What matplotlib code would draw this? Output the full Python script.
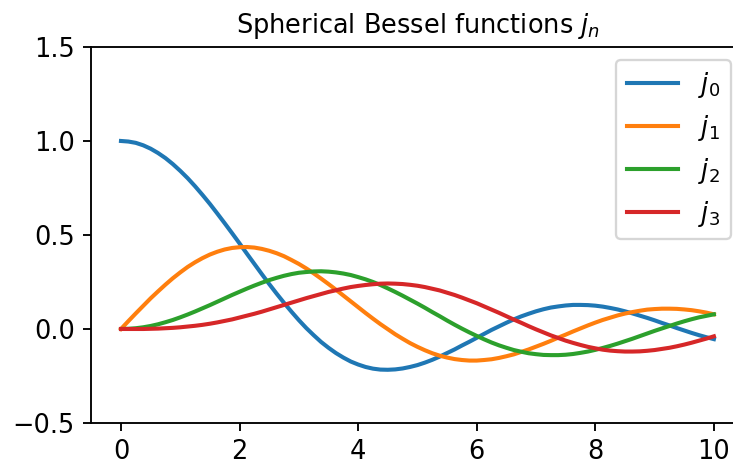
import matplotlib
matplotlib.use("Agg")
import matplotlib.pyplot as plt

# sample positions (every 0.125) and values for each order
x_values = [0.0, 0.125, 0.25, 0.375, 0.5, 0.625, 0.75, 0.875,
            1.0, 1.125, 1.25, 1.375, 1.5, 1.625, 1.75, 1.875,
            2.0, 2.125, 2.25, 2.375, 2.5, 2.625, 2.75, 2.875,
            3.0, 3.125, 3.25, 3.375, 3.5, 3.625, 3.75, 3.875,
            4.0, 4.125, 4.25, 4.375, 4.5, 4.625, 4.75, 4.875,
            5.0, 5.125, 5.25, 5.375, 5.5, 5.625, 5.75, 5.875,
            6.0, 6.125, 6.25, 6.375, 6.5, 6.625, 6.75, 6.875,
            7.0, 7.125, 7.25, 7.375, 7.5, 7.625, 7.75, 7.875,
            8.0, 8.125, 8.25, 8.375, 8.5, 8.625, 8.75, 8.875,
            9.0, 9.125, 9.25, 9.375, 9.5, 9.625, 9.75, 9.875, 10.0]
j0 = [1.000, 0.997, 0.990, 0.977, 0.959, 0.936, 0.909, 0.877,
      0.841, 0.802, 0.759, 0.713, 0.665, 0.614, 0.562, 0.509,
      0.455, 0.400, 0.346, 0.292, 0.239, 0.188, 0.139, 0.092,
      0.047, 0.005, -0.033, -0.069, -0.100, -0.128, -0.152, -0.173,
      -0.189, -0.202, -0.211, -0.216, -0.217, -0.215, -0.210, -0.202,
      -0.192, -0.179, -0.164, -0.147, -0.128, -0.109, -0.088, -0.068,
      -0.047, -0.026, -0.005, 0.014, 0.033, 0.051, 0.067, 0.081,
      0.094, 0.105, 0.114, 0.120, 0.125, 0.128, 0.128, 0.127,
      0.124, 0.119, 0.112, 0.104, 0.094, 0.083, 0.071, 0.059,
      0.046, 0.032, 0.019, 0.005, -0.008, -0.021, -0.033, -0.044, -0.054]
j1 = [0.000, 0.042, 0.083, 0.123, 0.163, 0.200, 0.236, 0.270,
      0.301, 0.330, 0.355, 0.377, 0.396, 0.411, 0.423, 0.431,
      0.435, 0.436, 0.433, 0.426, 0.416, 0.403, 0.387, 0.367,
      0.346, 0.322, 0.296, 0.268, 0.239, 0.209, 0.178, 0.147,
      0.116, 0.085, 0.055, 0.026, -0.001, -0.028, -0.052, -0.075,
      -0.095, -0.113, -0.129, -0.142, -0.152, -0.160, -0.165, -0.168,
      -0.168, -0.165, -0.161, -0.154, -0.145, -0.135, -0.122, -0.109,
      -0.094, -0.079, -0.063, -0.046, -0.030, -0.013, 0.003, 0.019,
      0.034, 0.048, 0.060, 0.072, 0.082, 0.090, 0.097, 0.103,
      0.106, 0.108, 0.108, 0.107, 0.104, 0.100, 0.094, 0.087, 0.078]
j2 = [0.000, 0.001, 0.004, 0.009, 0.016, 0.025, 0.036, 0.048,
      0.062, 0.077, 0.093, 0.110, 0.127, 0.145, 0.163, 0.181,
      0.198, 0.215, 0.231, 0.246, 0.260, 0.272, 0.283, 0.292,
      0.299, 0.303, 0.306, 0.307, 0.305, 0.301, 0.295, 0.287,
      0.276, 0.264, 0.250, 0.234, 0.216, 0.197, 0.177, 0.156,
      0.135, 0.113, 0.090, 0.068, 0.045, 0.023, 0.002, -0.018,
      -0.037, -0.055, -0.072, -0.087, -0.100, -0.112, -0.121, -0.129,
      -0.134, -0.138, -0.139, -0.139, -0.137, -0.133, -0.127, -0.120,
      -0.111, -0.101, -0.090, -0.078, -0.065, -0.052, -0.038, -0.024,
      -0.010, 0.003, 0.016, 0.029, 0.041, 0.052, 0.062, 0.070, 0.078]
j3 = [0.000, 0.000, 0.000, 0.000, 0.001, 0.002, 0.004, 0.006,
      0.009, 0.013, 0.017, 0.022, 0.028, 0.035, 0.043, 0.051,
      0.061, 0.071, 0.081, 0.092, 0.104, 0.116, 0.128, 0.140,
      0.152, 0.164, 0.175, 0.186, 0.197, 0.206, 0.215, 0.223,
      0.229, 0.234, 0.238, 0.241, 0.242, 0.241, 0.239, 0.235,
      0.230, 0.223, 0.214, 0.205, 0.193, 0.181, 0.167, 0.152,
      0.137, 0.120, 0.103, 0.086, 0.068, 0.050, 0.033, 0.015,
      -0.002, -0.018, -0.034, -0.048, -0.062, -0.074, -0.085, -0.095,
      -0.103, -0.110, -0.115, -0.118, -0.120, -0.120, -0.119, -0.116,
      -0.112, -0.106, -0.100, -0.092, -0.083, -0.073, -0.062, -0.051, -0.039]
series = [j0, j1, j2, j3]
labels = ["$j_0$", "$j_1$", "$j_2$", "$j_3$"]

y_limits = (-0.5, 1.5)
y_ticks = [-0.5, 0.0, 0.5, 1.0, 1.5]
x_ticks = [0, 2, 4, 6, 8, 10]

dpi = 168
plt.rcParams['font.size'] = 11
fig = plt.figure(figsize=(733 / dpi, 466 / dpi), dpi=dpi)
# the axes run a little past the right edge, as in the original crop
ax = fig.add_axes([0.1246, 0.0923, 0.8898, 0.8069])

for values, label in zip(series, labels):
    ax.plot(x_values, values, label=label, linewidth=1.75)

ax.set_ylim(*y_limits)
ax.set_yticks(y_ticks)
ax.set_xticks(x_ticks)
ax.set_title("Spherical Bessel functions $j_n$", fontsize=11)
ax.legend(loc="upper right")

fig.savefig("out.png", dpi=dpi)
plt.close(fig)
